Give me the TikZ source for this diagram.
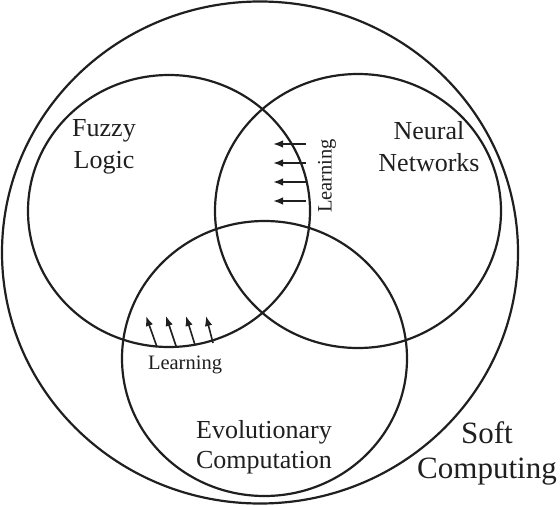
\documentclass[tikz,border=0pt]{standalone}
\usepackage{fontspec}
\setmainfont{Liberation Serif}
\usetikzlibrary{shapes.geometric,arrows.meta}
\tikzset{
  setshape/.style={draw, ellipse, line width=2.2pt, inner sep=0pt, outer sep=0pt, color=black!88},
  biglabel/.style={align=center, font=\fontsize{26}{32}\selectfont, text=black!88, inner sep=0pt},
  learnlabel/.style={font=\fontsize{20.5}{24}\selectfont, text=black!88, inner sep=0pt},
  learnarrow/.style={line width=1.6pt, color=black!88, -{Latex[length=10pt,width=7.5pt]}}
}
\begin{document}
\begin{tikzpicture}[x=1pt,y=-1pt]
\useasboundingbox (0,0) rectangle (560,506);
% sets
\node[setshape, minimum width=516pt, minimum height=502pt] (soft) at (260,252.5) {};
\node[setshape, minimum width=282pt, minimum height=272pt] (fuzzy) at (169,211) {};
\node[setshape, minimum width=286pt, minimum height=274pt] (neural) at (358,211) {};
\node[setshape, minimum width=285pt, minimum height=275pt] (evo) at (264.5,358.5) {};
% labels
\node[biglabel] (fl) at (104,147) {Fuzzy\\Logic};
\node[biglabel] (nn) at (429,147) {Neural\\Networks};
\node[biglabel, font=\fontsize{26}{30}\selectfont] (ec) at (264,447) {Evolutionary\\Computation};
\node[biglabel, font=\fontsize{31}{35}\selectfont] (sc) at (487,453) {Soft\\Computing};
% learning (fuzzy-neural)
\node[learnlabel, rotate=90] (l1) at (327,176) {Learning};
\foreach \i/\y in {1/144,2/163,3/182,4/201}{
  \coordinate (a\i s) at (306,\y);
  \coordinate (a\i e) at (273,\y);
  \draw[learnarrow] (a\i s) -- (a\i e);
}
% learning (fuzzy-evolutionary)
\node[learnlabel] (l2) at (185,365) {Learning};
\coordinate (b1s) at (157,347); \coordinate (b1e) at (146,316);
\coordinate (b2s) at (176,346); \coordinate (b2e) at (166,316);
\coordinate (b3s) at (195,345); \coordinate (b3e) at (186,316);
\coordinate (b4s) at (213,343); \coordinate (b4e) at (206,316);
\foreach \i in {1,2,3,4}{
  \draw[learnarrow] (b\i s) -- (b\i e);
}
\end{tikzpicture}
\end{document}
